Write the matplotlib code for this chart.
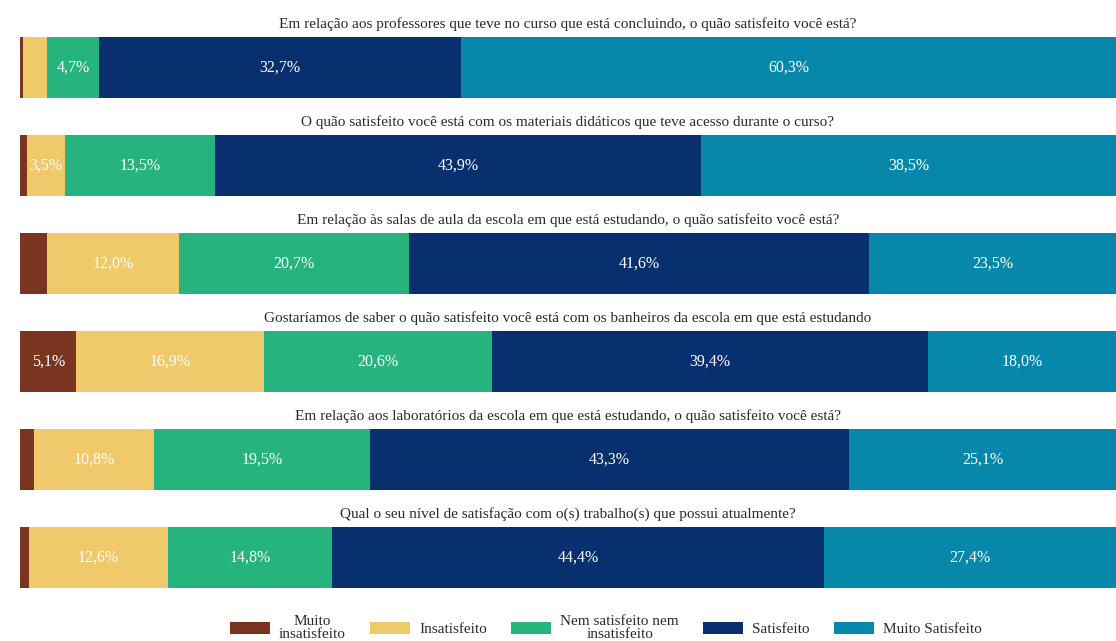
import numpy as np
import matplotlib
matplotlib.use('Agg')
import matplotlib.pyplot as plt

questions = [
    "Em relação aos professores que teve no curso que está concluindo, o quão satisfeito você está?",
    "O quão satisfeito você está com os materiais didáticos que teve acesso durante o curso?",
    "Em relação às salas de aula da escola em que está estudando, o quão satisfeito você está?",
    "Gostaríamos de saber o quão satisfeito você está com os banheiros da escola em que está estudando",
    "Em relação aos laboratórios da escola em que está estudando, o quão satisfeito você está?",
    "Qual o seu nível de satisfação com o(s) trabalho(s) que possui atualmente?",
]
categories = ["Muito\ninsatisfeito", "Insatisfeito", "Nem satisfeito nem\ninsatisfeito",
              "Satisfeito", "Muito Satisfeito"]

muito_insat = [0.25, 0.6, 2.4, 5.1, 1.3, 0.8]
insat = [2.2, 3.5, 12.0, 16.9, 10.8, 12.6]
nem = [4.7, 13.5, 20.7, 20.6, 19.5, 14.8]
sat = [32.7, 43.9, 41.6, 39.4, 43.3, 44.4]
muito_sat = [60.3, 38.5, 23.5, 18.0, 25.1, 27.4]

colors = ["#7A3520", "#EFC96A", "#27B37D", "#08306E", "#0788AB"]

plt.rcParams['font.family'] = ['Liberation Serif', 'DejaVu Serif']

fig = plt.figure(figsize=(11.16, 6.41), dpi=100)
# bars run slightly past the right edge of the figure, as in the original
ax = fig.add_axes([20 / 1116, 1 - 616.3 / 641, 1107 / 1116, 607.6 / 641])

series = [muito_insat, insat, nem, sat, muito_sat]
y = np.arange(len(questions))
left = np.zeros(len(questions))
for vals, col, lab in zip(series, colors, categories):
    vals = np.array(vals)
    ax.barh(y, vals, left=left, height=0.62, color=col, label=lab)
    for yi, l, v in zip(y, left, vals):
        if v >= 3:
            xc = min(l + v / 2, (l + 99.0) / 2)
            ax.text(xc, yi, f"{v:.1f}%".replace('.', ','), ha='center', va='center',
                    color='white', fontsize=11.5)
    left += vals

for yi, q in zip(y, questions):
    ax.text(49.5, yi - 0.44, q, ha='center', va='center', fontsize=11, color='#2a2a2a')

ax.set_xlim(0, 100)
ax.set_ylim(5.6, -0.6)
ax.axis('off')

leg = fig.legend(loc='lower center', bbox_to_anchor=(0.543, -0.022), ncol=5, frameon=False,
                 fontsize=11, handlelength=2.6, handleheight=0.8, columnspacing=1.6,
                 handletextpad=0.6, labelspacing=0.2)
for t in leg.get_texts():
    t.set_multialignment('center')
    t.set_linespacing(1.0)
    t.set_color('#2a2a2a')

fig.savefig('out.png', dpi=100, facecolor='white')
